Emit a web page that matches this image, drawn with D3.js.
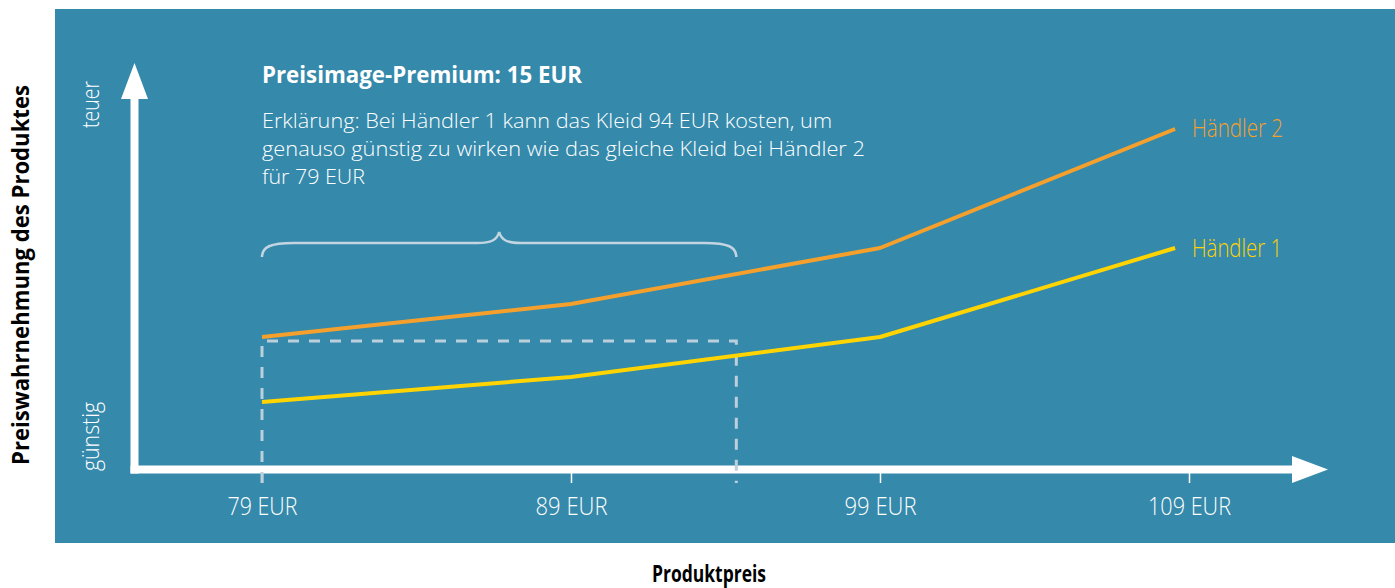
<!DOCTYPE html>
<html>
<head>
<meta charset="utf-8">
<script src="https://cdn.jsdelivr.net/npm/d3@7"></script>
<style>
  html, body { margin: 0; padding: 0; background: #ffffff; }
  svg { display: block; }
  text { font-family: "Open Sans", "DejaVu Sans", sans-serif; }
</style>
</head>
<body>
<svg id="chart" width="1395" height="588"></svg>
<script>
// ---- data ----
const prices = [79, 89, 99, 108.55];               // product price (EUR) at line vertices
const haendler1 = [16.75, 23, 33, 55.25];          // perceived price level, Händler 1
const haendler2 = [33, 41.25, 55.25, 85];          // perceived price level, Händler 2
const seriesNames = ["Händler 1", "Händler 2"];
const tickValues = [79, 89, 99, 109];
const tickLabels = ["79 EUR", "89 EUR", "99 EUR", "109 EUR"];
const boxPrices = [79, 94.35];                     // dashed box: 79 EUR (Händler 2) vs 94 EUR (Händler 1)
const boxLevel = 32;
const titleText = "Preisimage-Premium: 15 EUR";
const bodyLines = [
  "Erklärung: Bei Händler 1 kann das Kleid 94 EUR kosten, um",
  "genauso günstig zu wirken wie das gleiche Kleid bei Händler 2",
  "für 79 EUR"
];
const yAxisTitle = "Preiswahrnehmung des Produktes";
const xAxisTitle = "Produktpreis";
const yEndLabels = ["teuer", "günstig"];

// ---- layout ----
const svg = d3.select("#chart");
const panel = { x: 55, y: 9, w: 1340, h: 534 };
const axisY = 469.5, axisX = 134.5;
const colors = { bg: "#3589ab", h1: "#ffd400", h2: "#f5a02c", white: "#ffffff", light: "#bccfdc" };

const x = d3.scaleLinear().domain([79, 109]).range([262, 1189]);
const y = d3.scaleLinear().domain([0, 100]).range([469, 69]);

// panel
svg.append("rect").attr("x", panel.x).attr("y", panel.y)
  .attr("width", panel.w).attr("height", panel.h).attr("fill", colors.bg);

// axis lines with arrows
svg.append("line").attr("x1", axisX).attr("x2", axisX).attr("y1", axisY + 4).attr("y2", 98)
  .attr("stroke", colors.white).attr("stroke-width", 8);
svg.append("path").attr("d", `M${axisX},63 L${axisX - 13.5},99 L${axisX + 13.5},99 Z`).attr("fill", colors.white);
svg.append("line").attr("x1", axisX - 4).attr("x2", 1293).attr("y1", axisY).attr("y2", axisY)
  .attr("stroke", colors.white).attr("stroke-width", 8);
svg.append("path").attr("d", `M1328,${axisY} L1292,${axisY - 13.5} L1292,${axisY + 13.5} Z`).attr("fill", colors.white);

// x axis ticks + labels through d3 axis
const xAxis = d3.axisBottom(x).tickValues(tickValues)
  .tickFormat((d, i) => tickLabels[i]).tickSize(10).tickPadding(14);
const gx = svg.append("g").attr("transform", `translate(0,${axisY + 3.5})`).call(xAxis);
gx.select(".domain").remove();
gx.selectAll(".tick line").attr("stroke", colors.white).attr("stroke-width", 1.5);
gx.selectAll(".tick text")
  .attr("fill", colors.white).attr("font-size", 25).attr("font-weight", 300)
  .attr("font-family", "'Open Sans', sans-serif")
  .attr("dy", "0.71em")
  .attr("textLength", (d, i) => [70, 72, 72, 83][i]).attr("lengthAdjust", "spacingAndGlyphs");

// dashed box
const bx0 = x(boxPrices[0]), bx1 = x(boxPrices[1]), by = y(boxLevel);
svg.append("path")
  .attr("d", `M${bx0},483 L${bx0},${by} L${bx1},${by} L${bx1},483`)
  .attr("fill", "none").attr("stroke", colors.light).attr("stroke-width", 3)
  .attr("stroke-dasharray", "11,10");

// brace
const mid = (bx0 + bx1) / 2;
svg.append("path")
  .attr("d", `M${bx0},257 C${bx0},247 ${bx0 + 8},243 ${bx0 + 32},243 L${mid - 22},243 C${mid - 8},243 ${mid - 2},240 ${mid},232 C${mid + 2},240 ${mid + 8},243 ${mid + 22},243 L${bx1 - 32},243 C${bx1 - 8},243 ${bx1},247 ${bx1},257`)
  .attr("fill", "none").attr("stroke", "#c3d5e1").attr("stroke-width", 2.5);

// lines
const line = d3.line().x((d, i) => x(prices[i])).y(d => y(d));
[[haendler1, colors.h1], [haendler2, colors.h2]].forEach(([vals, c]) => {
  svg.append("path").datum(vals).attr("d", line)
    .attr("fill", "none").attr("stroke", c).attr("stroke-width", 4)
    .attr("stroke-linejoin", "round");
});

// series labels
svg.append("text").attr("x", 1192).attr("y", y(haendler2[3]) + 8).text(seriesNames[1])
  .attr("fill", colors.h2).attr("font-size", 25).attr("font-weight", 300)
  .attr("textLength", 91).attr("lengthAdjust", "spacingAndGlyphs");
svg.append("text").attr("x", 1192).attr("y", y(haendler1[3]) + 9).text(seriesNames[0])
  .attr("fill", colors.h1).attr("font-size", 25).attr("font-weight", 300)
  .attr("textLength", 90).attr("lengthAdjust", "spacingAndGlyphs");

// title and explanation
svg.append("text").attr("x", 262).attr("y", 83).text(titleText)
  .attr("fill", colors.white).attr("font-size", 24).attr("font-weight", 700)
  .attr("textLength", 320).attr("lengthAdjust", "spacingAndGlyphs");
const bodyLens = [570, 603, 103];
bodyLines.forEach((t, i) => {
  svg.append("text").attr("x", 262).attr("y", 128 + i * 28).text(t)
    .attr("fill", colors.white).attr("font-size", 20.5).attr("font-weight", 300)
    .attr("textLength", bodyLens[i]).attr("lengthAdjust", "spacingAndGlyphs");
});

// y-end labels (rotated)
[[yEndLabels[0], 104.5, 47], [yEndLabels[1], 436.5, 69]].forEach(([t, cy, len]) => {
  svg.append("text").attr("transform", `translate(99,${cy}) rotate(-90)`)
    .attr("text-anchor", "middle").text(t)
    .attr("fill", colors.white).attr("font-size", 23).attr("font-weight", 300)
    .attr("textLength", len).attr("lengthAdjust", "spacingAndGlyphs");
});

// axis titles
svg.append("text").attr("transform", "translate(29,275) rotate(-90)")
  .attr("text-anchor", "middle").text(yAxisTitle)
  .attr("fill", "#000").attr("font-size", 24).attr("font-weight", 700)
  .attr("textLength", 380).attr("lengthAdjust", "spacingAndGlyphs");
svg.append("text").attr("x", 709).attr("y", 582).attr("text-anchor", "middle").text(xAxisTitle)
  .attr("fill", "#000").attr("font-size", 24).attr("font-weight", 700)
  .attr("textLength", 114).attr("lengthAdjust", "spacingAndGlyphs");
</script>
</body>
</html>
